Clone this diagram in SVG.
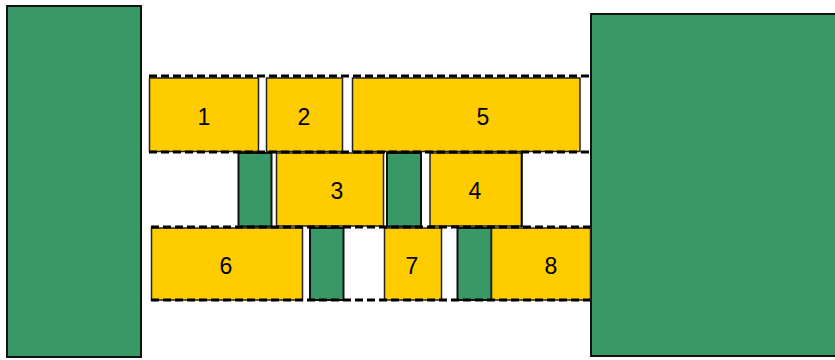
<svg xmlns="http://www.w3.org/2000/svg" width="835" height="360" viewBox="0 0 835 360">
<style>
.g{fill:#389966;stroke:#111;stroke-width:2}
.y{fill:#ffcc00;stroke:#222;stroke-width:1.5}
.d{stroke:#000;stroke-width:3;stroke-dasharray:8 4;fill:none}
.s{stroke:#000;stroke-width:2;fill:none}
text{font-family:"Liberation Sans",Arial,sans-serif;font-size:23px;fill:#000;text-anchor:middle;dominant-baseline:central}
</style>
<rect width="835" height="360" fill="#fff"/>
<g id="left-block"><rect class="g" x="7" y="6" width="134" height="351"/></g>
<g id="right-block"><rect class="g" x="591" y="14" width="246" height="342"/></g>
<g id="n1"><rect class="y" x="149.5" y="78" width="109" height="73.5"/><text x="204" y="117">1</text></g>
<g id="n2"><rect class="y" x="266.5" y="78" width="76" height="73.5"/><text x="304" y="117">2</text></g>
<g id="n5"><rect class="y" x="352.5" y="78" width="227.5" height="73.5"/><text x="483" y="117">5</text></g>
<g id="gA"><rect class="g" x="238.5" y="153" width="33" height="73.5"/></g>
<g id="n3"><rect class="y" x="276.5" y="153" width="107" height="73"/><text x="337" y="191">3</text></g>
<g id="gB"><rect class="g" x="387" y="153" width="34" height="73.5"/></g>
<g id="n4"><rect class="y" x="430" y="153" width="91.7" height="73"/><text x="475" y="191">4</text></g>
<g id="n6"><rect class="y" x="151.5" y="228" width="151" height="72"/><text x="226" y="266">6</text></g>
<g id="gC"><rect class="g" x="310" y="228" width="33.5" height="72"/></g>
<g id="n7"><rect class="y" x="384.5" y="228" width="57" height="72"/><text x="412" y="266">7</text></g>
<g id="gD"><rect class="g" x="457.5" y="228" width="34" height="72"/></g>
<g id="n8"><rect class="y" x="491.5" y="228" width="99" height="72"/><text x="551" y="266">8</text></g>
<g id="connectors">
<line class="d" x1="149" y1="76" x2="590" y2="76"/>
<line class="d" x1="149" y1="152" x2="590" y2="152"/>
<line class="d" x1="151" y1="227" x2="590" y2="227"/>
<line class="d" x1="151" y1="300" x2="590" y2="300"/>
<line class="s" x1="521.7" y1="152" x2="521.7" y2="227"/>
</g>
</svg>
